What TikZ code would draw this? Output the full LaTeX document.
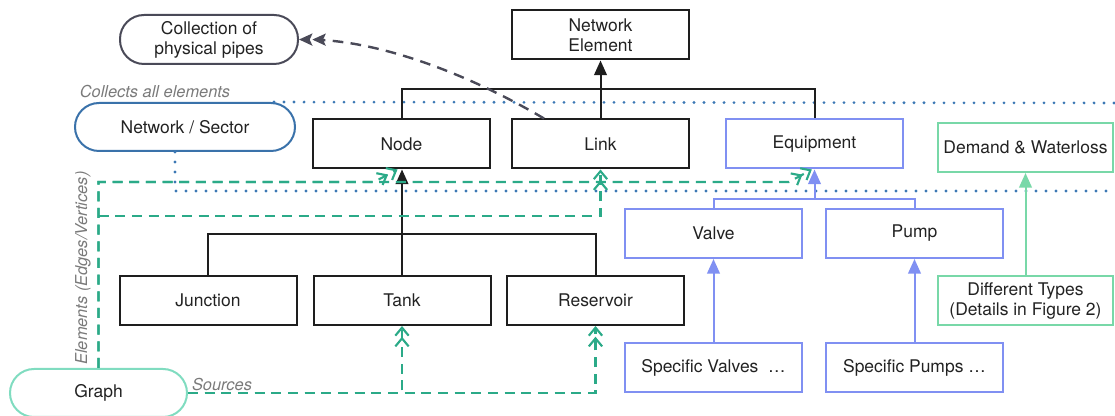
\documentclass[tikz,border=0pt]{standalone}
\usepackage{fontspec}
\setmainfont{TeX Gyre Heros}
\usetikzlibrary{arrows.meta}
\definecolor{boxblk}{HTML}{1E1E1E}
\definecolor{boxblue}{HTML}{8090F2}
\definecolor{boxgreen}{HTML}{78D8A8}
\definecolor{graphgreen}{HTML}{80DCC0}
\definecolor{dashgreen}{HTML}{2BAA88}
\definecolor{dotblue}{HTML}{3C78B4}
\definecolor{netblue}{HTML}{3A72AA}
\definecolor{collgray}{HTML}{4A4A58}
\definecolor{txtgray}{HTML}{7A7A7A}
\definecolor{txt}{HTML}{222222}
\tikzset{
  x=0.75pt,y=-0.75pt,
  base/.style={font=\fontsize{13.1}{15}\selectfont,text=txt,align=center,
    minimum width=132.75pt,minimum height=36.75pt,inner sep=0pt,line width=1.5pt},
  blkbox/.style={base,draw=boxblk},
  bluebox/.style={base,draw=boxblue},
  greenbox/.style={base,draw=boxgreen},
  pill/.style={base,rounded corners=18pt},
  note/.style={font=\fontsize{12.3}{14}\selectfont\itshape,text=txtgray,inner sep=0pt},
  conn/.style={line width=1.5pt},
  blktip/.style={-{Triangle[length=11pt,width=9.5pt]}},
  dotline/.style={draw=dotblue,line width=2.3pt,line cap=round,dash pattern=on 0pt off 7.5pt},
  gdash/.style={draw=dashgreen,line width=1.6pt,dash pattern=on 7.5pt off 5pt,
    -{Straight Barb[length=6pt,width=10pt,line width=1.6pt]Straight Barb[length=6pt,width=10pt,line width=1.6pt]}},
}
\begin{document}
\begin{tikzpicture}
\useasboundingbox (0,0) rectangle (1115,416);
% nodes
\node[blkbox] (NE) at (600.5,35) {Network\\Element};
\node[blkbox] (Node) at (401.5,144) {Node};
\node[blkbox] (Link) at (600.5,144) {Link};
\node[bluebox] (Equip) at (814.5,144) {Equipment};
\node[greenbox,minimum width=131.25pt] (Demand) at (1025.5,147.5) {Demand \& Waterloss};
\node[blkbox] (Junction) at (208,300.5) {Junction};
\node[blkbox] (Tank) at (402,300.5) {Tank};
\node[blkbox] (Reservoir) at (595.5,300.5) {Reservoir};
\node[bluebox] (Valve) at (713.5,233.5) {Valve};
\node[bluebox] (Pump) at (914.5,233.5) {Pump};
\node[bluebox] (SpecV) at (713.5,368) {Specific Valves\ \ \dots};
\node[bluebox] (SpecP) at (914.5,368) {Specific Pumps \dots};
\node[greenbox,minimum width=131.25pt] (DiffT) at (1025.5,301) {Different Types\\(Details in Figure 2)};
\node[pill,draw=collgray,minimum width=133.5pt] (Coll) at (209,39.5) {Collection of\\physical pipes};
\node[pill,draw=netblue,minimum width=165pt,minimum height=36pt] (Net) at (185,127) {Network / Sector};
\node[pill,draw=graphgreen,minimum height=36pt] (Graph) at (98.5,393) {Graph};
% labels
\node[note] (lblColl) at (155,92) {Collects all elements};
\node[note,rotate=90] (lblElem) at (83,268) {Elements (Edges/Vertices)};
\node[note] (lblSrc) at (222,385) {Sources};
% coordinates
\coordinate (neT) at (600.5,89);
\coordinate (lT) at (402,234);
\coordinate (vT) at (814.5,199);
\coordinate (R1) at (1115,103);
\coordinate (R2) at (1115,191);
\coordinate (gA) at (98.5,182);
\coordinate (gB) at (98.5,216);
\coordinate (gN) at (374,182);
\coordinate (gE) at (789,182);
% dotted lines
\draw[dotline] ([xshift=-16.5pt]Net.north east) -- (R1);
\draw[dotline] ([xshift=-7.5pt]Net.south) |- (R2);
% black trees
\draw[boxblk,conn] (Node.north) |- (neT) -| (Equip.north);
\draw[boxblk,conn] (Link.north) -- (neT);
\draw[boxblk,conn,blktip] (neT) -- (NE.south);
\draw[boxblk,conn] (Junction.north) |- (lT) -| (Reservoir.north);
\draw[boxblk,conn] (Tank.north) -- (lT);
\draw[boxblk,conn,blktip] (lT) -- (lT |- Node.south);
% blue tree
\draw[boxblue,conn] (Valve.north) |- (vT) -| (Pump.north);
\draw[boxblue,conn,blktip] (vT) -- (Equip.south);
\draw[boxblue,conn,blktip] (SpecV.north) -- (Valve.south);
\draw[boxblue,conn,blktip] (SpecP.north) -- (Pump.south);
% green solid
\draw[boxgreen,conn,blktip] (DiffT.north) -- (Demand.south);
% green dashed
\draw[gdash] (Graph.north) -- (gA) -- (gN) -- ([xshift=-3pt]Node.south);
\draw[gdash] (Graph.north) -- (gA) -- (gE) -- ([xshift=-2pt]Equip.south);
\draw[gdash] (gB) -- (gB -| Link.south) -- (Link.south);
\draw[gdash] (Graph.east) -| (Tank.south);
\draw[gdash] (Graph.east) -| (Reservoir.south);
% dark dashed curve
\draw[collgray,line width=1.8pt,dash pattern=on 8pt off 5.5pt,
  -{Stealth[length=10pt,width=9pt,inset=2pt]Stealth[length=10pt,width=9pt,inset=2pt]}]
  ([xshift=24.75pt]Link.north west) .. controls (470,75) and (380,40) .. (Coll.east);
\end{tikzpicture}
\end{document}
